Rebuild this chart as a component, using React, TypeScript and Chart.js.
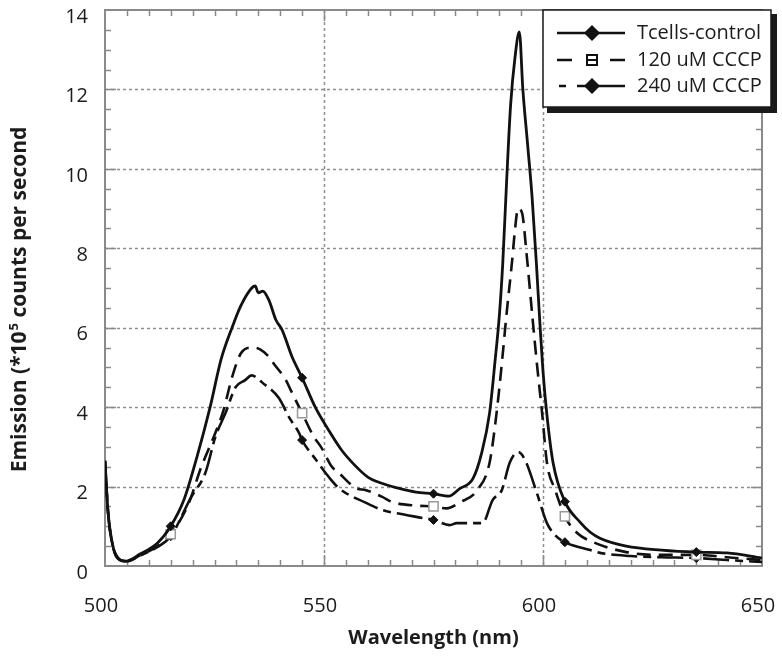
import React, { useEffect, useRef } from 'react';
import { Chart, registerables } from 'chart.js';
Chart.register(...registerables);

// ---- axis definitions ----
const X_TICKS = [500, 550, 600, 650];
const Y_TICKS = [0, 2, 4, 6, 8, 10, 12, 14];
const X_MINOR_STEP = 5;
const Y_MINOR_STEP = 0.5;
const X_TITLE = 'Wavelength (nm)';
const Y_TITLE_A = 'Emission (*10';
const Y_TITLE_SUP = '5';
const Y_TITLE_B = ' counts per second';

// ---- series ----
const SERIES_LABELS = ['Tcells-control', '120 uM CCCP', '240 uM CCCP'];
const MARKER_WL = [515, 545, 575, 605, 635];

const CONTROL_WL = [500, 500.7, 501.8, 503, 504.6, 508, 512, 515, 518, 521, 524, 526.5, 529, 531, 533.5, 534.3, 535, 536, 537.4, 539, 540.4, 542.7, 545, 548, 551, 554, 557, 560, 563, 567, 571, 575, 578.5, 581, 584, 586, 587.8, 589, 590.1, 590.8, 591.7, 592.6, 593.6, 594.6, 595.4, 596.5, 597.5, 598.5, 599.3, 600, 600.9, 602.3, 605, 608.5, 610.8, 613, 619, 627, 635, 642, 650];
const CONTROL_VAL = [2.65, 1.35, 0.5, 0.2, 0.12, 0.3, 0.58, 1.0, 1.66, 2.75, 4.0, 5.2, 6.0, 6.55, 7.0, 7.05, 6.88, 6.92, 6.7, 6.2, 5.95, 5.27, 4.74, 4.0, 3.43, 2.92, 2.54, 2.24, 2.09, 1.96, 1.86, 1.82, 1.76, 1.95, 2.2, 2.85, 3.85, 5.1, 6.4, 7.6, 9.7, 11.6, 12.8, 13.45, 12.0, 10.6, 9.3, 7.6, 6.1, 4.9, 3.8, 2.6, 1.62, 1.1, 0.85, 0.7, 0.5, 0.4, 0.35, 0.33, 0.2];

const CCCP120_WL = [500, 500.7, 501.8, 503, 505, 508, 512, 515, 519, 522, 525, 527, 529, 531, 533.5, 535.5, 537.4, 538.5, 541.3, 542.4, 545, 547.7, 549.3, 551.8, 553.4, 557.3, 559.6, 563.3, 565.6, 571, 575, 578, 581, 584.9, 587.8, 589.4, 590.6, 591.7, 592.9, 593.6, 594.3, 595.2, 596.3, 597.5, 598.6, 599.8, 600.9, 602.8, 605, 607.8, 611.5, 619, 627, 635, 642, 650];
const CCCP120_VAL = [2.65, 1.35, 0.5, 0.18, 0.12, 0.27, 0.5, 0.8, 1.55, 2.5, 3.3, 3.9, 4.75, 5.35, 5.5, 5.45, 5.27, 5.1, 4.68, 4.43, 3.85, 3.25, 3.0, 2.5, 2.34, 1.96, 1.91, 1.74, 1.61, 1.52, 1.5, 1.45, 1.6, 1.9, 2.6, 3.85, 5.1, 6.37, 7.63, 8.46, 9.0, 8.9, 7.8, 6.37, 5.1, 3.85, 2.6, 1.91, 1.25, 0.83, 0.6, 0.35, 0.28, 0.28, 0.22, 0.15];

const CCCP240_WL = [500, 500.7, 501.8, 503, 505, 508, 512, 515, 519.7, 522.9, 525.2, 527.5, 529.8, 532, 533.5, 534.4, 535.8, 539.7, 542, 544.3, 545, 548.2, 551.1, 553.4, 559.6, 563.3, 566.5, 572.5, 575, 578.7, 580.3, 586.2, 588.5, 590.6, 592.4, 594.3, 595.9, 598.6, 600.9, 603, 605, 610.8, 613, 620, 627, 635, 642, 650];
const CCCP240_VAL = [2.65, 1.35, 0.5, 0.18, 0.12, 0.26, 0.48, 0.75, 1.74, 2.34, 3.25, 3.85, 4.5, 4.68, 4.8, 4.76, 4.63, 4.23, 3.75, 3.35, 3.17, 2.67, 2.24, 1.96, 1.59, 1.41, 1.33, 1.21, 1.16, 1.03, 1.08, 1.08, 1.66, 1.91, 2.6, 2.87, 2.67, 1.84, 1.08, 0.75, 0.6, 0.4, 0.33, 0.25, 0.22, 0.2, 0.15, 0.1];

const FONT = "'Open Sans', 'DejaVu Sans', sans-serif";
const TEXT = '#1c1c1c';
const FRAME = '#8a8a8a';
const DASH120 = [14, 8];
const DASH240 = [26, 6, 8, 6];

const zip = (xs: number[], ys: number[]) => xs.map((x, i) => ({ x, y: ys[i] }));

const decorPlugin = {
  id: 'decor',
  beforeDatasetsDraw(chart: any) {
    const { ctx, chartArea: a, scales } = chart;
    const xs = scales.x, ys = scales.y;
    ctx.save();
    // dotted grid
    ctx.strokeStyle = '#8f8f8f';
    ctx.lineWidth = 1.5;
    ctx.setLineDash([3, 3]);
    X_TICKS.forEach((v) => {
      if (v === xs.min || v === xs.max) return;
      const px = Math.round(xs.getPixelForValue(v)) + 0.5;
      ctx.beginPath(); ctx.moveTo(px, a.top); ctx.lineTo(px, a.bottom); ctx.stroke();
    });
    Y_TICKS.forEach((v) => {
      if (v === ys.min || v === ys.max) return;
      const py = Math.round(ys.getPixelForValue(v)) + 0.5;
      ctx.beginPath(); ctx.moveTo(a.left, py); ctx.lineTo(a.right, py); ctx.stroke();
    });
    ctx.setLineDash([]);
    // minor ticks
    ctx.strokeStyle = FRAME;
    ctx.lineWidth = 1.5;
    for (let v = xs.min + X_MINOR_STEP; v < xs.max; v += X_MINOR_STEP) {
      const px = Math.round(xs.getPixelForValue(v)) + 0.5;
      const len = X_TICKS.includes(v) ? 11 : 6;
      ctx.beginPath();
      ctx.moveTo(px, a.bottom); ctx.lineTo(px, a.bottom - len);
      ctx.moveTo(px, a.top); ctx.lineTo(px, a.top + len);
      ctx.stroke();
    }
    for (let v = ys.min + Y_MINOR_STEP; v < ys.max - 1e-6; v += Y_MINOR_STEP) {
      const py = Math.round(ys.getPixelForValue(v)) + 0.5;
      const len = Y_TICKS.includes(v) ? 11 : 6;
      ctx.beginPath();
      ctx.moveTo(a.left, py); ctx.lineTo(a.left + len, py);
      ctx.moveTo(a.right, py); ctx.lineTo(a.right - len, py);
      ctx.stroke();
    }
    // frame
    ctx.lineWidth = 2;
    ctx.strokeRect(a.left, a.top, a.right - a.left, a.bottom - a.top);
    ctx.restore();
  },
  afterDraw(chart: any) {
    const { ctx, chartArea: a } = chart;
    ctx.save();
    // x title
    ctx.fillStyle = TEXT;
    ctx.font = `bold 20px ${FONT}`;
    ctx.textAlign = 'center';
    ctx.textBaseline = 'middle';
    ctx.fillText(X_TITLE, (a.left + a.right) / 2, 638);
    // y title
    ctx.save();
    ctx.translate(20, 300);
    ctx.rotate(-Math.PI / 2);
    ctx.textAlign = 'left';
    ctx.font = `bold 21px ${FONT}`;
    const w1 = ctx.measureText(Y_TITLE_A).width;
    const w3 = ctx.measureText(Y_TITLE_B).width;
    ctx.font = `bold 13px ${FONT}`;
    const w2 = ctx.measureText(Y_TITLE_SUP).width;
    const x0 = -(w1 + w2 + w3) / 2;
    ctx.font = `bold 21px ${FONT}`;
    ctx.fillText(Y_TITLE_A, x0, 0);
    ctx.font = `bold 13px ${FONT}`;
    ctx.fillText(Y_TITLE_SUP, x0 + w1 + 1, -6);
    ctx.font = `bold 21px ${FONT}`;
    ctx.fillText(Y_TITLE_B, x0 + w1 + w2 + 1, 0);
    ctx.restore();

    // legend
    const bx = 543, by = 10, bw = 228, bh = 97;
    ctx.fillStyle = '#1a1a1a';
    ctx.fillRect(bx + 4, by + 4, bw + 2, bh + 2);
    ctx.fillStyle = '#ffffff';
    ctx.fillRect(bx, by, bw, bh);
    ctx.strokeStyle = '#1a1a1a';
    ctx.lineWidth = 1.5;
    ctx.strokeRect(bx, by, bw, bh);

    const rows = [33, 60, 86];
    const lx0 = 557, lx1 = 625, mx = 592;
    ctx.strokeStyle = '#111';
    ctx.lineWidth = 2.5;
    const diamond = (cx: number, cy: number, r: number) => {
      ctx.beginPath();
      ctx.moveTo(cx, cy - r); ctx.lineTo(cx + r, cy); ctx.lineTo(cx, cy + r); ctx.lineTo(cx - r, cy);
      ctx.closePath();
      ctx.fillStyle = '#111';
      ctx.fill();
    };
    // row 1
    ctx.beginPath(); ctx.moveTo(lx0, rows[0]); ctx.lineTo(lx1, rows[0]); ctx.stroke();
    diamond(mx, rows[0], 8);
    // row 2
    ctx.beginPath();
    ctx.moveTo(lx0, rows[1]); ctx.lineTo(lx0 + 15, rows[1]);
    ctx.moveTo(lx1 - 15, rows[1]); ctx.lineTo(lx1, rows[1]);
    ctx.stroke();
    ctx.fillStyle = '#fff';
    ctx.fillRect(mx - 5, rows[1] - 5, 10, 10);
    ctx.lineWidth = 2;
    ctx.strokeRect(mx - 5, rows[1] - 5, 10, 10);
    ctx.beginPath(); ctx.moveTo(mx - 5, rows[1]); ctx.lineTo(mx + 5, rows[1]); ctx.stroke();
    // row 3
    ctx.lineWidth = 2.5;
    ctx.beginPath();
    ctx.moveTo(lx0 + 2, rows[2]); ctx.lineTo(lx0 + 9, rows[2]);
    ctx.moveTo(lx0 + 20, rows[2]); ctx.lineTo(lx1, rows[2]);
    ctx.stroke();
    diamond(mx, rows[2], 8);

    ctx.fillStyle = TEXT;
    ctx.font = `20px ${FONT}`;
    ctx.textAlign = 'left';
    ctx.textBaseline = 'middle';
    SERIES_LABELS.forEach((t, i) => ctx.fillText(t, 637, rows[i]));
    ctx.restore();
  },
};

export default function App() {
  const ref = useRef<HTMLCanvasElement | null>(null);
  useEffect(() => {
    document.body.style.margin = '0';
    if (!ref.current) return;
    const markerR = (r: number) => (c: any) => (c.raw && MARKER_WL.includes(c.raw.x) ? r : 0);
    const chart = new Chart(ref.current, {
      type: 'line',
      data: {
        datasets: [
          {
            label: SERIES_LABELS[0],
            data: zip(CONTROL_WL, CONTROL_VAL),
            borderColor: '#111',
            borderWidth: 2.8,
            pointStyle: 'rectRot',
            pointRadius: markerR(4.5),
            pointBackgroundColor: '#111',
            pointBorderColor: '#111',
            pointBorderWidth: 1,
            cubicInterpolationMode: 'monotone',
          },
          {
            label: SERIES_LABELS[1],
            data: zip(CCCP120_WL, CCCP120_VAL),
            borderColor: '#111',
            borderWidth: 2.6,
            borderDash: DASH120,
            pointStyle: 'rect',
            pointRadius: markerR(6.5),
            pointBackgroundColor: '#fff',
            pointBorderColor: '#9a9a9a',
            pointBorderWidth: 1.5,
            cubicInterpolationMode: 'monotone',
          },
          {
            label: SERIES_LABELS[2],
            data: zip(CCCP240_WL, CCCP240_VAL),
            borderColor: '#111',
            borderWidth: 2.6,
            borderDash: DASH240,
            pointStyle: 'rectRot',
            pointRadius: markerR(4.5),
            pointBackgroundColor: '#111',
            pointBorderColor: '#111',
            pointBorderWidth: 1,
            cubicInterpolationMode: 'monotone',
          },
        ],
      },
      options: {
        responsive: false,
        animation: false,
        devicePixelRatio: 1,
        layout: { padding: { top: 10, right: 20, left: 0, bottom: 0 } },
        plugins: { legend: { display: false }, tooltip: { enabled: false } },
        scales: {
          x: {
            type: 'linear',
            min: 500,
            max: 650,
            afterBuildTicks: (s: any) => { s.ticks = X_TICKS.map((v) => ({ value: v })); },
            afterFit: (s: any) => { s.height = 90; s.paddingLeft = 0; s.paddingRight = 0; s.paddingTop = 0; s.paddingBottom = 0; },
            grid: { display: false, drawTicks: false },
            border: { display: false },
            ticks: {
              padding: 28,
              labelOffset: -4,
              maxRotation: 0,
              autoSkip: false,
              color: TEXT,
              font: { family: FONT, size: 20 },
            },
          },
          y: {
            type: 'linear',
            min: 0,
            max: 14,
            afterBuildTicks: (s: any) => { s.ticks = Y_TICKS.map((v) => ({ value: v })); },
            afterFit: (s: any) => { s.width = 105; s.paddingTop = 0; s.paddingBottom = 0; s.paddingLeft = 0; s.paddingRight = 0; },
            grid: { display: false, drawTicks: false },
            border: { display: false },
            ticks: {
              padding: 17,
              labelOffset: 7,
              color: TEXT,
              font: { family: FONT, size: 20 },
            },
          },
        },
      },
      plugins: [decorPlugin],
    } as any);
    return () => chart.destroy();
  }, []);
  return (
    <div style={{ width: 782, height: 656 }}>
      <canvas ref={ref} width={782} height={656} style={{ width: 782, height: 656, display: 'block' }} />
    </div>
  );
}
